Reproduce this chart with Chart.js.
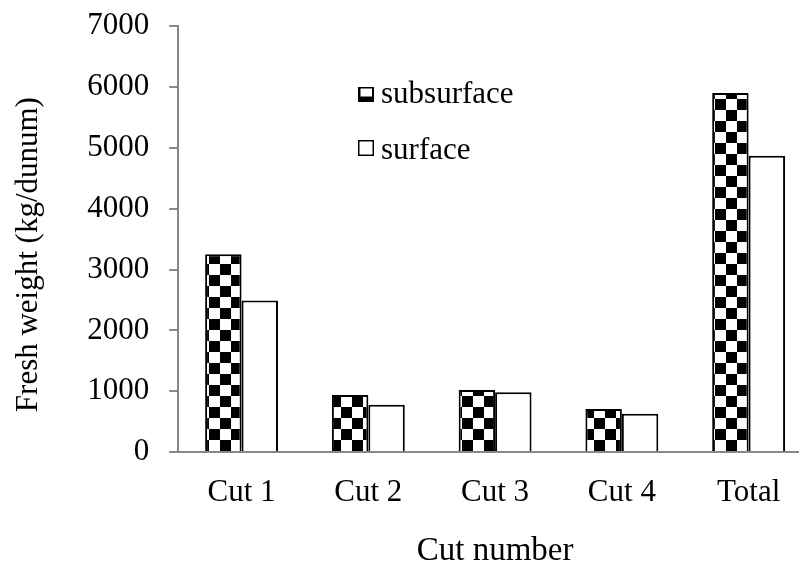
<!DOCTYPE html>
<html>
<head>
<meta charset="utf-8">
<script src="https://cdn.jsdelivr.net/npm/chart.js@4/dist/chart.umd.min.js"></script>
<style>
html,body{margin:0;padding:0;overflow:hidden;background:#fff;width:799px;height:566px}
canvas{display:block}
</style>
</head>
<body>
<canvas id="c" width="812" height="566"></canvas>
<script>
const categories = ['Cut 1', 'Cut 2', 'Cut 3', 'Cut 4', 'Total'];
const subsurface = [3250, 940, 1020, 710, 5900];
const surface = [2490, 780, 985, 630, 4870];
const seriesNames = ['subsurface', 'surface'];
const yMin = 0, yMax = 7000, yStep = 1000;

const FONT = '"Liberation Serif", "Times New Roman", serif';

// checkerboard pattern
const pc = document.createElement('canvas');
pc.width = 22; pc.height = 22;
const pctx = pc.getContext('2d');
pctx.fillStyle = '#fff'; pctx.fillRect(0, 0, 22, 22);
pctx.fillStyle = '#000'; pctx.fillRect(0, 0, 11, 11); pctx.fillRect(11, 11, 11, 11);
const checker = document.getElementById('c').getContext('2d').createPattern(pc, 'repeat');

const legendPlugin = {
  id: 'customLegend',
  afterDraw(chart) {
    const ctx = chart.ctx;
    ctx.save();
    ctx.font = '31px ' + FONT;
    ctx.textBaseline = 'alphabetic';
    ctx.textAlign = 'left';
    // subsurface icon
    ctx.fillStyle = '#000';
    ctx.fillRect(358, 87, 16, 15);
    ctx.fillStyle = '#fff';
    ctx.fillRect(360.5, 88.5, 11.5, 8);
    ctx.fillStyle = '#000';
    ctx.fillText(seriesNames[0], 381, 103);
    // surface icon
    ctx.fillStyle = '#fff';
    ctx.fillRect(358, 140, 16, 16);
    ctx.strokeStyle = '#000';
    ctx.lineWidth = 1.5;
    ctx.strokeRect(358.75, 140.75, 14.5, 14.5);
    ctx.fillStyle = '#000';
    ctx.fillText(seriesNames[1], 381, 159);
    ctx.restore();
  }
};

new Chart(document.getElementById('c'), {
  type: 'bar',
  data: {
    labels: categories,
    datasets: [
      {
        label: seriesNames[0],
        data: subsurface,
        backgroundColor: checker,
        borderColor: '#000',
        borderWidth: 2,
        categoryPercentage: 0.575,
        barPercentage: 1.0
      },
      {
        label: seriesNames[1],
        data: surface,
        backgroundColor: '#fff',
        borderColor: '#000',
        borderWidth: 2,
        categoryPercentage: 0.575,
        barPercentage: 1.0
      }
    ]
  },
  options: {
    responsive: false,
    animation: false,
    devicePixelRatio: 1,
    layout: { padding: { top: 0, left: 0, right: 0, bottom: 0 } },
    plugins: {
      legend: { display: false },
      tooltip: { enabled: false }
    },
    scales: {
      x: {
        grid: { display: true, drawOnChartArea: false, drawTicks: false },
        border: { display: true, color: '#888', width: 2, z: 1 },
        ticks: { color: '#000', font: { family: FONT, size: 31 }, padding: 22 },
        title: {
          display: true, text: 'Cut number', color: '#000',
          font: { family: FONT, size: 33 }, padding: { top: -2, bottom: -5 }
        }
      },
      y: {
        min: yMin, max: yMax,
        grid: { display: true, drawOnChartArea: false, drawTicks: true, tickLength: 9, color: '#888', lineWidth: 2 },
        border: { display: true, color: '#888', width: 2 },
        ticks: {
          stepSize: yStep, color: '#000', padding: 20,
          font: { family: FONT, size: 31, lineHeight: 0.39 },
          callback: v => String(v)
        },
        title: {
          display: true, text: 'Fresh weight (kg/dunum)\u00A0\u00A0\u00A0\u00A0', color: '#000',
          font: { family: FONT, size: 31 }, padding: { top: 10, bottom: 20 }
        }
      }
    }
  },
  plugins: [legendPlugin]
});
</script>
</body>
</html>
